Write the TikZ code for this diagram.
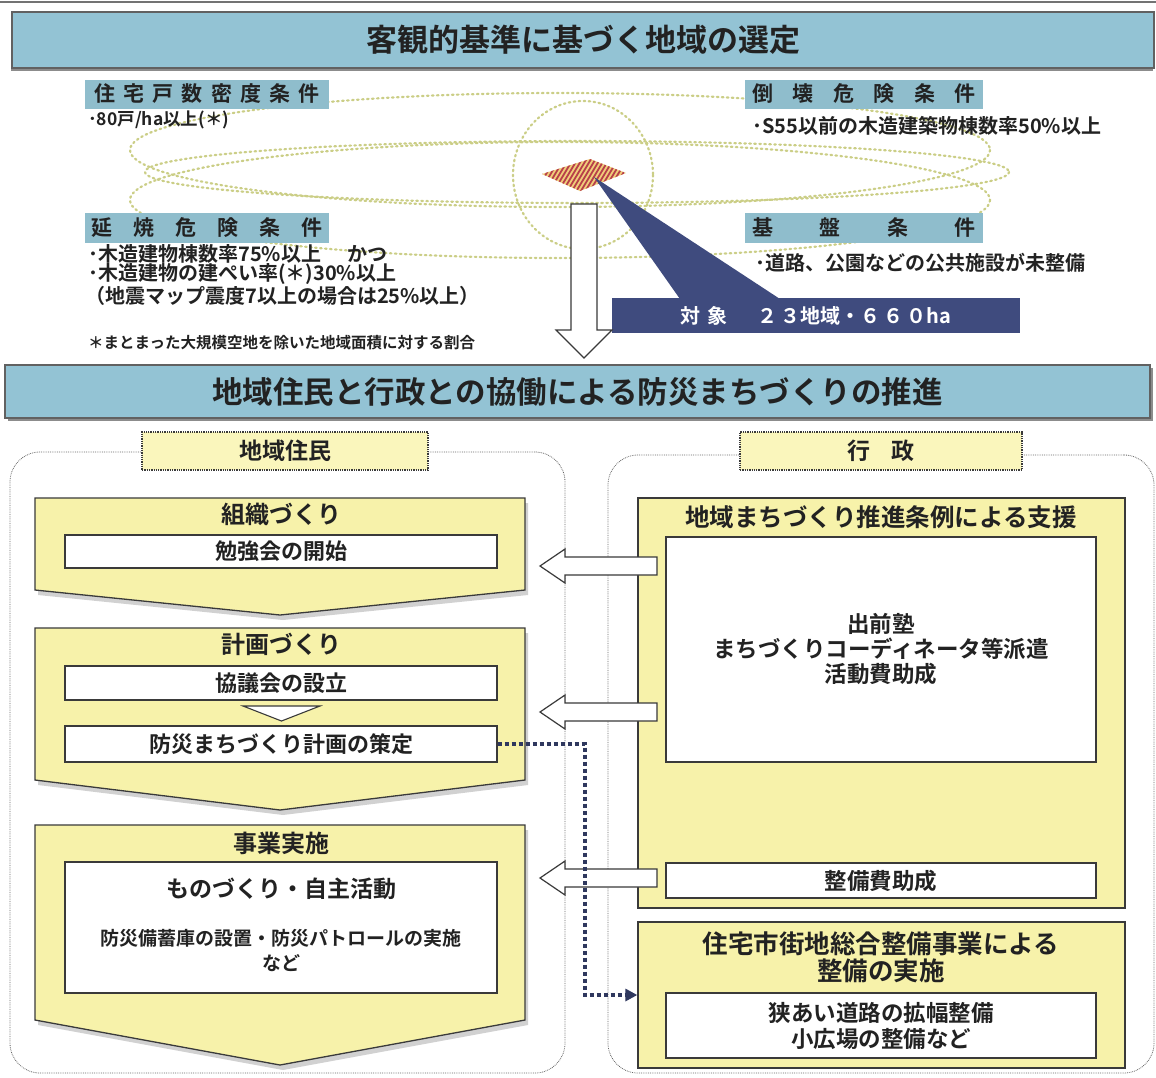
\documentclass[tikz,border=0pt]{standalone}
\usepackage{fontspec}
\setmainfont{Noto Sans CJK JP}[BoldFont={Noto Sans CJK JP Bold}]
\usetikzlibrary{arrows.meta}
\definecolor{barblue}{HTML}{93C3D4}
\definecolor{condblue}{HTML}{8FBDCC}
\definecolor{txt}{HTML}{222222}
\definecolor{chev}{HTML}{F7F2AA}
\definecolor{tabyel}{HTML}{FAF6BC}
\definecolor{navy}{HTML}{3F4B7E}
\definecolor{elldot}{HTML}{CBCE86}
\definecolor{hatch}{HTML}{B8404A}
\definecolor{hatchbg}{HTML}{F0CE7A}
\definecolor{edge}{HTML}{3A3A3A}
\newcommand{\F}[2]{\fontsize{#1}{#2}\selectfont}
\tikzset{
  bar/.style={fill=barblue, draw=edge!80, line width=1.4, inner sep=0, text=txt, font=\bfseries},
  barshadow/.style={fill=black!45},
  cond/.style={fill=condblue, inner sep=0, text=txt, font=\bfseries},
  body/.style={anchor=west, inner sep=0, text=txt, font=\bfseries},
  ell/.style={draw=elldot, line width=2.2, dash pattern=on 1.6pt off 3.4pt, line cap=round},
  tab/.style={fill=tabyel, draw=edge, line width=1.3, densely dotted, inner sep=0, text=txt, font=\bfseries},
  region/.style={draw=black!60, line width=0.8, densely dotted, rounded corners=30, inner sep=0},
  chevron/.style={fill=chev, draw=edge, line width=1.3},
  chevshadow/.style={fill=black!40, opacity=0.45},
  wbox/.style={fill=white, draw=edge, line width=1.2, inner sep=0, text=txt, font=\bfseries},
  ttl/.style={inner sep=0, text=txt, align=center},
  ybox/.style={fill=chev, draw=edge, line width=1.3, inner sep=0},
  harrow/.style={fill=white, draw=edge, line width=1.2, line join=miter},
  dotconn/.style={draw=navy!75!black, line width=4.5, dash pattern=on 4pt off 3pt, -{Triangle[length=12pt,width=12pt]}}
}
\begin{document}
\begin{tikzpicture}[x=1pt,y=-1pt]
\useasboundingbox (0,0) rectangle (1156,1077);
\fill[white] (0,0) rectangle (1156,1077);
\draw[black!55, line width=1.5] (0,2) -- (1156,2);

% ---------- header bar 1
\fill[barshadow] (11,15) rectangle (1153,71);
\node[bar, minimum width=1142, minimum height=56] (bar1) at (583,40)
  {\F{31}{34}客観的基準に基づく地域の選定};

% ---------- dotted ellipses
\draw[ell] (560,150) ellipse [x radius=430, y radius=57];
\draw[ell] (577,172) ellipse [x radius=432, y radius=31];
\draw[ell] (560,200) ellipse [x radius=430, y radius=58];
\draw[ell] (583,175) ellipse [x radius=70, y radius=74];

% ---------- hatched diamond
\coordinate (dia) at (594,177);
\begin{scope}
  \clip (542,174) -- (590,159) -- (626,173) -- (580,191) -- cycle;
  \fill[hatchbg] (530,150) rectangle (640,200);
  \foreach \i in {0,4.5,...,150} {
    \draw[hatch, line width=1.8] (490+\i,200) -- ++(30,-50);
  }
\end{scope}

% ---------- wedge + target box
\node[fill=navy, inner sep=0, minimum width=408, minimum height=35, text=white, font=\bfseries] (target) at (816,315.5)
  {\F{20}{24}対\hspace{7pt}象\hspace{30pt}２\hspace{3pt}３地域・６\hspace{3pt}６\hspace{3pt}０ha};
\fill[navy] (dia) -- (680,299) -- (780,299) -- cycle;

% ---------- condition labels
\node[cond, minimum width=244, minimum height=29] (c1) at (207,94)
  {\F{21}{24}\makebox[226pt]{住\hfill 宅\hfill 戸\hfill 数\hfill 密\hfill 度\hfill 条\hfill 件}};
\node[body] (c1t) at (88,120) {\F{17.5}{20}･80戸/ha以上(＊)};

\node[cond, minimum width=238, minimum height=29] (c2) at (864,94)
  {\F{21}{24}\makebox[224pt]{倒\hfill 壊\hfill 危\hfill 険\hfill 条\hfill 件}};
\node[body] (c2t) at (752,126) {\F{20}{22}･S55以前の木造建築物棟数率50\%以上};

\node[cond, minimum width=244, minimum height=30] (c3) at (207,227.5)
  {\F{21}{24}\makebox[232pt]{延\hfill 焼\hfill 危\hfill 険\hfill 条\hfill 件}};
\node[body] (c3a) at (88,254) {\F{20}{22}･木造建物棟数率75\%以上\hspace{26pt}かつ};
\node[body] (c3b) at (88,274) {\F{20}{22}･木造建物の建ぺい率(＊)30\%以上};
\node[body] (c3c) at (85,296) {\F{20}{22}（地震マップ震度7以上の場合は25\%以上）};
\node[body] (note) at (88,343) {\F{15.5}{18}＊まとまった大規模空地を除いた地域面積に対する割合};

\node[cond, minimum width=238, minimum height=30] (c4) at (864,227.5)
  {\F{21}{24}\makebox[224pt]{基\hfill 盤\hfill 条\hfill 件}};
\node[body] (c4t) at (755,263) {\F{20}{22}･道路、公園などの公共施設が未整備};

% ---------- down arrow
\draw[harrow] (571,204) -- (597,204) -- (597,330) -- (612,330) -- (584,358)
  -- (556,330) -- (571,330) -- cycle;

% ---------- header bar 2
\fill[barshadow] (8,368) rectangle (1153,421);
\node[bar, minimum width=1145, minimum height=53] (bar2) at (577.5,391.5)
  {\F{30.5}{33}地域住民と行政との協働による防災まちづくりの推進};

% ---------- regions and tabs
\node[region, minimum width=555, minimum height=621] (lreg) at (287.5,762.5) {};
\node[region, minimum width=546, minimum height=618] (rreg) at (881,764) {};
\node[tab, minimum width=286, minimum height=38] (ltab) at (285,451)
  {\F{23}{26}地域住民};
\node[tab, minimum width=282, minimum height=38] (rtab) at (881,451)
  {\F{23}{26}行\hspace{22pt}政};

% ---------- chevrons (left)
\fill[chevshadow] (38,503) -- (528,503) -- (528,595) -- (283,620) -- (38,595) -- cycle;
\draw[chevron] (35,498) -- (525,498) -- (525,590) -- (280,615) -- (35,590) -- cycle;
\fill[chevshadow] (38,633) -- (528,633) -- (528,785) -- (283,815) -- (38,785) -- cycle;
\draw[chevron] (35,628) -- (525,628) -- (525,780) -- (280,810) -- (35,780) -- cycle;
\fill[chevshadow] (38,830) -- (528,830) -- (528,1025) -- (283,1070) -- (38,1025) -- cycle;
\draw[chevron] (35,825) -- (525,825) -- (525,1020) -- (280,1065) -- (35,1020) -- cycle;

\node[ttl, font=\bfseries\F{24}{28}] (t1) at (281,514) {組織づくり};
\node[wbox, minimum width=432, minimum height=33] (b1) at (281,551.5) {\F{22}{26}勉強会の開始};

\node[ttl, font=\bfseries\F{24}{28}] (t2) at (281,644) {計画づくり};
\node[wbox, minimum width=432, minimum height=34] (b2) at (281,683) {\F{22}{26}協議会の設立};
\draw[fill=white, draw=edge, line width=1.1] (243,706) -- (320,706) -- (281.5,721) -- cycle;
\node[wbox, minimum width=432, minimum height=36] (b3) at (281,744) {\F{22}{26}防災まちづくり計画の策定};

\node[ttl, font=\bfseries\F{24}{28}] (t3) at (281,843) {事業実施};
\node[wbox, minimum width=432, minimum height=131] (b4) at (281,927.5) {};
\node[ttl, font=\bfseries\F{23}{27}] (b4a) at (281,889) {ものづくり・自主活動};
\node[ttl, font=\bfseries\F{19}{25}] (b4b) at (281,951) {防災備蓄庫の設置・防災パトロールの実施\\など};

% ---------- right boxes
\node[ybox, minimum width=487, minimum height=410] (rb1) at (881.5,703) {};
\node[ttl, font=\bfseries\F{24.5}{28}] (rt1) at (881,517) {地域まちづくり推進条例による支援};
\node[wbox, minimum width=430, minimum height=225, align=center, font=\bfseries\F{22.5}{25}] (rw1) at (881,649.5)
  {出前塾\\まちづくりコーディネータ等派遣\\活動費助成};
\node[wbox, minimum width=430, minimum height=35] (rw2) at (881,880.5) {\F{22.5}{26}整備費助成};

\node[ybox, minimum width=487, minimum height=146] (rb2) at (881.5,995) {};
\node[ttl, font=\bfseries\F{25.5}{27}] (rt2) at (881,957) {住宅市街地総合整備事業による\\整備の実施};
\node[wbox, minimum width=430, minimum height=65, align=center, font=\bfseries\F{22.5}{26}] (rw3) at (881,1025.5)
  {狭あい道路の拡幅整備\\小広場の整備など};

% ---------- hollow arrows (right -> left)
\foreach \yy/\nm in {566/a1, 712/a2, 878/a3} {
  \coordinate (\nm s) at (657,\yy);
  \coordinate (\nm t) at (540,\yy);
  \draw[harrow] (\nm s) ++(0,-9) -- ++(-92,0) -- ++(0,-8) -- (\nm t) -- ++(25,17) -- ++(0,-8) -- ++(92,0) -- cycle;
}

% ---------- dotted connector
\coordinate (dc1) at (585,744);
\coordinate (dc2) at (585,995);
\draw[dotconn] (b3.east) -- (dc1) -- (dc2) -- (rb2.west);

\end{tikzpicture}
\end{document}
